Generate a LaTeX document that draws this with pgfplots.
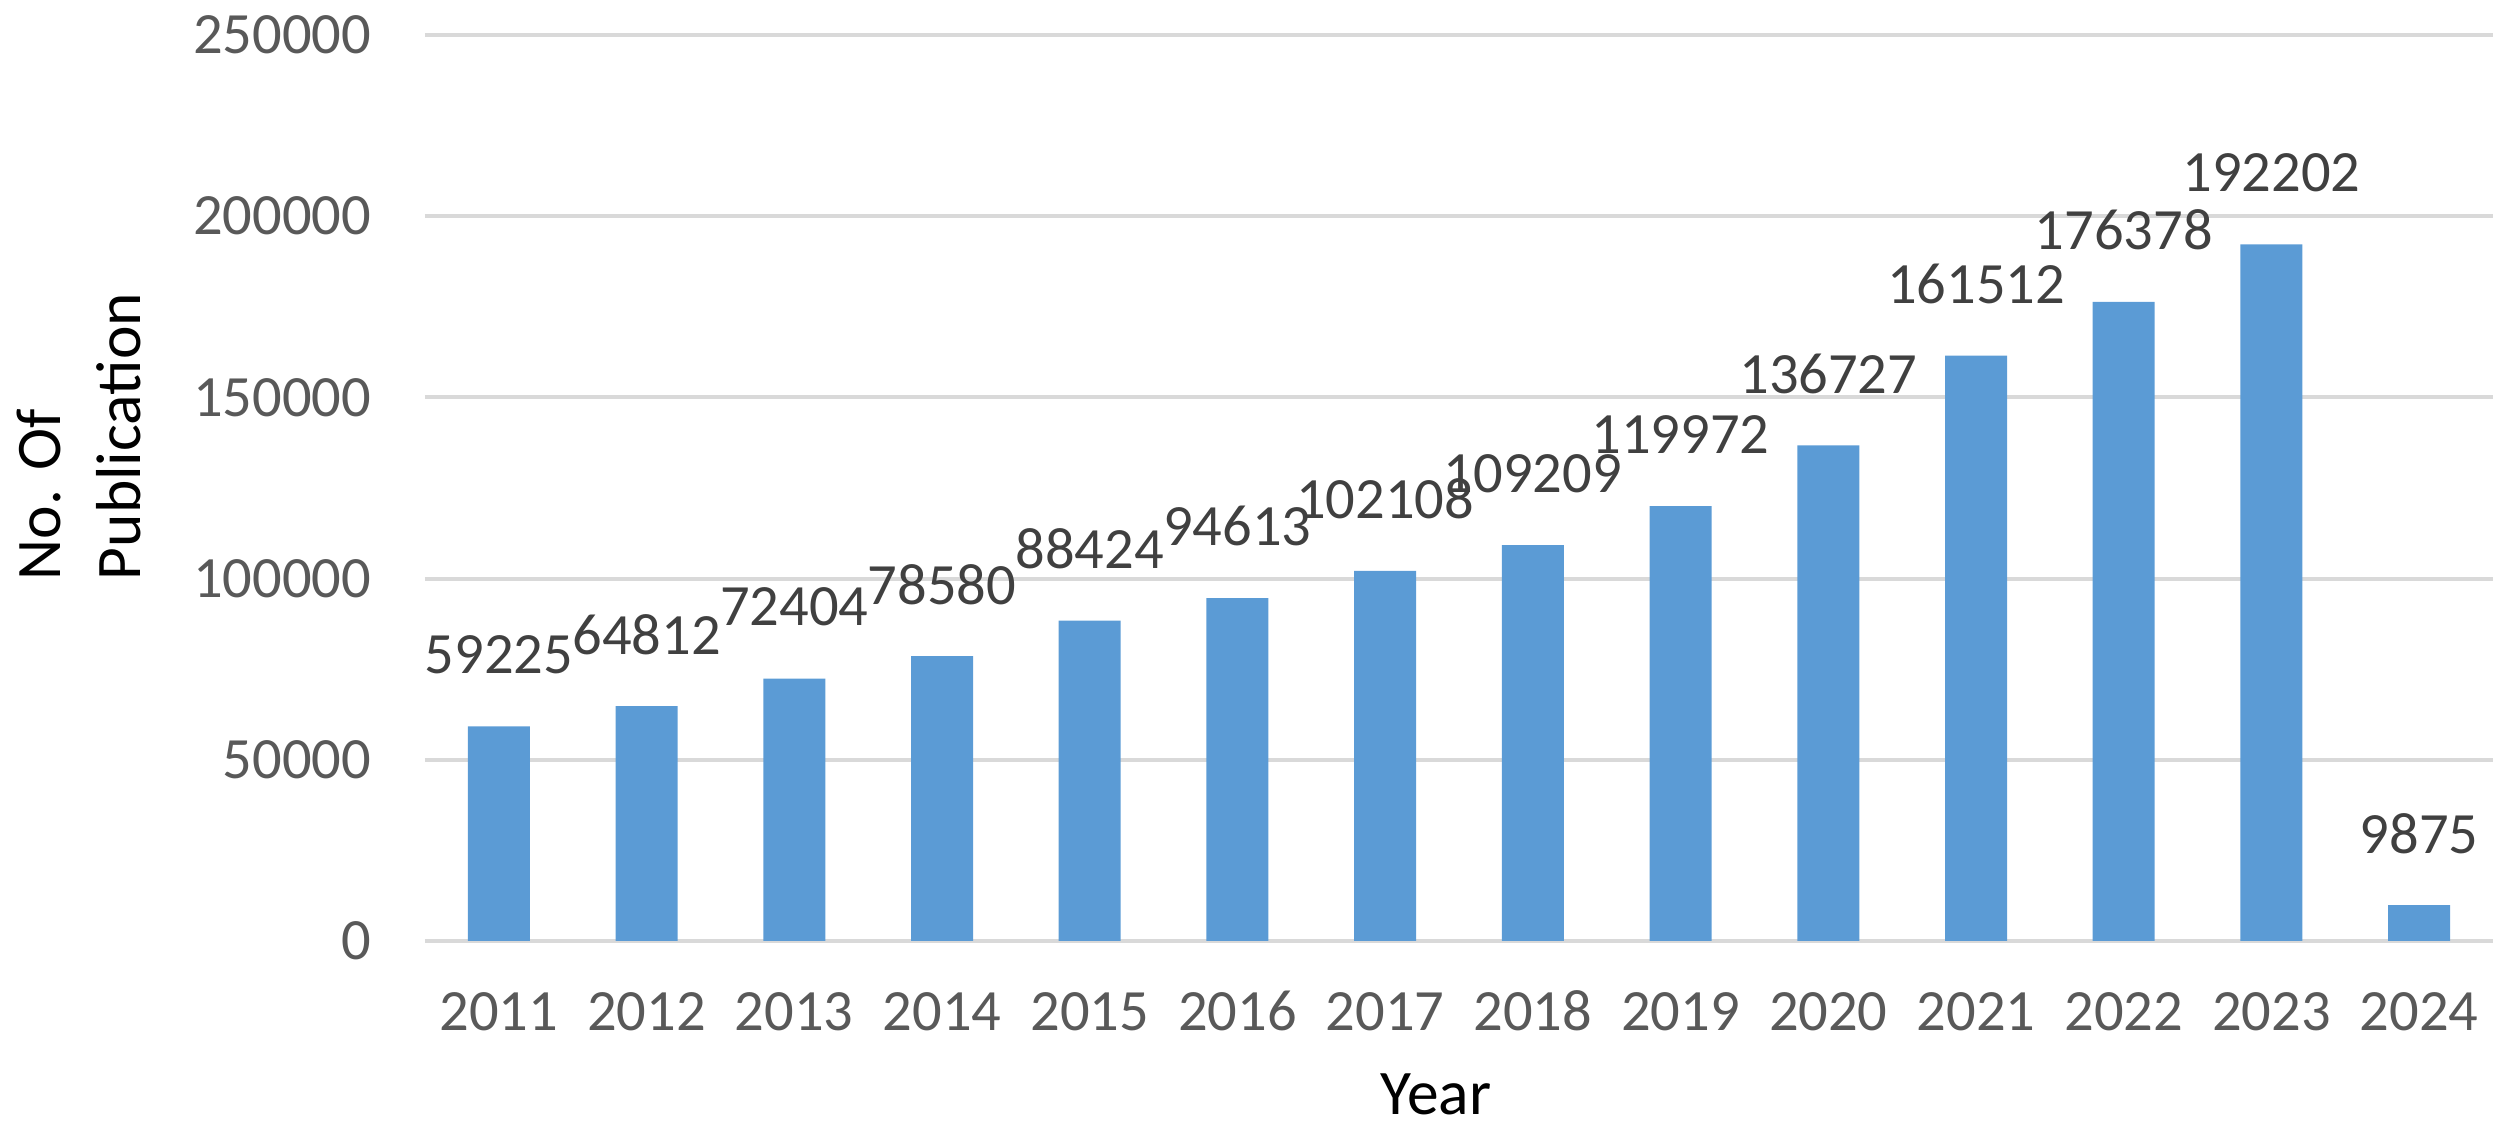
\documentclass[border=0pt]{standalone}
\usepackage{fontspec}
\setmainfont{Carlito}
\usepackage{pgfplots}
\pgfplotsset{compat=1.18}
\usepackage{pgfplotstable}
\definecolor{barblue}{HTML}{5B9BD5}
\definecolor{gridgray}{HTML}{D9D9D9}
\definecolor{ticktext}{HTML}{595959}
\definecolor{labeltext}{HTML}{404040}

\pgfplotstableread{
x y label
0 59225 59225
1 64812 64812
2 72404 72404
3 78580 78580
4 88424 88424
5 94613 94613
6 102108 102108
7 109209 109209
8 119972 119972
9 136727 136727
10 161512 161512
11 176378 176378
12 192202 192202
13 9875 9875
}\pubdata

\begin{document}
\begin{tikzpicture}
\begin{axis}[
  name=ax,
  scale only axis,
  width=413.6pt, height=181.2pt,
  xmin=-0.5, xmax=13.5,
  ymin=0, ymax=250000,
  scaled y ticks=false,
  clip=false,
  axis line style={draw=none},
  major tick length=0pt,
  tick style={draw=none},
  ymajorgrids,
  grid style={gridgray, line width=0.8pt},
  ytick={0,50000,100000,150000,200000,250000},
  yticklabels={0,50000,100000,150000,200000,250000},
  xtick={0,1,2,3,4,5,6,7,8,9,10,11,12,13},
  xticklabels={2011,2012,2013,2014,2015,2016,2017,2018,2019,2020,2021,2022,2023,2024},
  tick label style={font=\fontsize{11.7}{14}\selectfont, text=ticktext},
  yticklabel style={anchor=east, inner sep=0pt, xshift=-10.6pt},
  xticklabel style={anchor=base, inner sep=0pt, yshift=-17.8pt},
  xlabel={Year},
  xlabel style={at={(rel axis cs:0.4889,-0.192)}, anchor=base, inner sep=0pt, font=\fontsize{12.7}{16}\selectfont, text=black},
  ylabel={No. Of\\Publication},
  ylabel style={at={(rel axis cs:-0.1368,0.5568)}, anchor=south, inner sep=0pt, align=left, font=\fontsize{12.7}{16}\selectfont, text=black},
  ybar,
  bar width=12.4pt,
  nodes near coords,
  point meta=explicit symbolic,
  every node near coord/.append style={anchor=center, yshift=14.35pt, inner sep=0pt, font=\fontsize{11.7}{14}\selectfont, text=labeltext},
]
\addplot[fill=barblue, draw=none] table[x=x, y=y, meta=label] {\pubdata};
\end{axis}
\pgfresetboundingbox
\path[use as bounding box] ([xshift=-85pt,yshift=-38.8pt]ax.south west) rectangle ([xshift=3.4pt,yshift=7pt]ax.north east);
\end{tikzpicture}
\end{document}
